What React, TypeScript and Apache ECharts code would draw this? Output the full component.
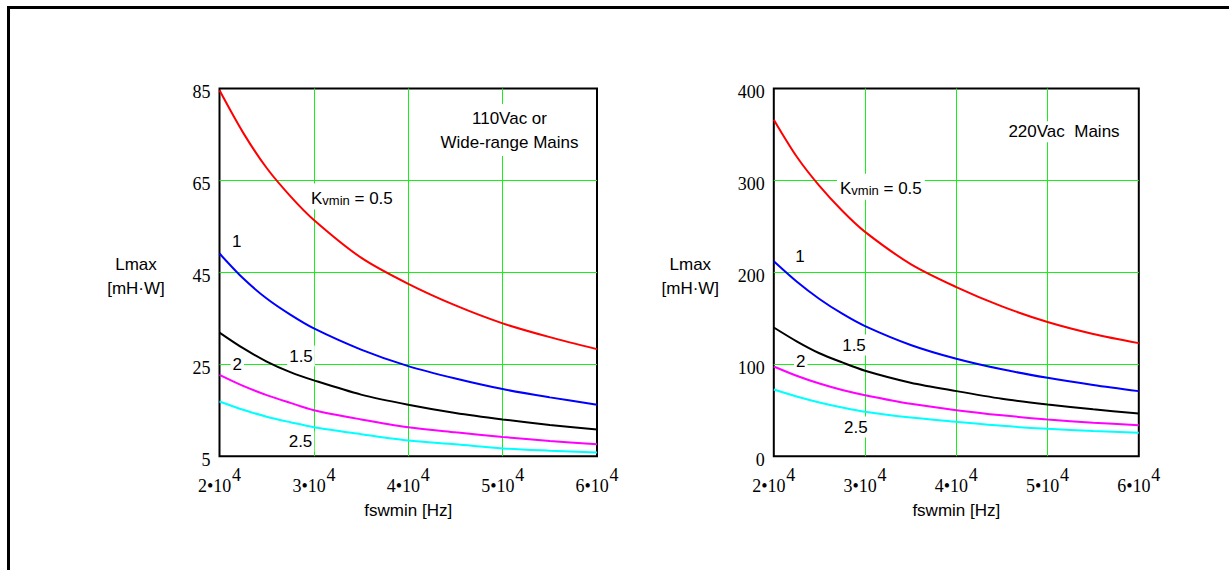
import React, { useEffect, useRef } from "react";
import * as echarts from "echarts";

// ---- data ----
const freqs = [20000, 22500, 25000, 27500, 30000, 35000, 40000, 45000, 50000, 55000, 60000];
const xTicks = [20000, 30000, 40000, 50000, 60000];
const xExponent = "4";
const leftYTicks = [5, 25, 45, 65, 85];
const rightYTicks = [0, 100, 200, 300, 400];
const kvLabels = ["0.5", "1", "1.5", "2", "2.5"];
const curveColors = ["#ff0000", "#0000ff", "#000000", "#ff00ff", "#00ffff"];

// 110Vac or wide-range mains
const left05 = [84.6, 75.4, 67.7, 61.6, 56.4, 48.2, 42.5, 37.8, 33.9, 30.9, 28.3];
const left10 = [49.1, 43.7, 39.3, 35.8, 32.8, 28.2, 24.6, 21.9, 19.6, 17.8, 16.2];
const left15 = [31.9, 28.5, 25.6, 23.3, 21.5, 18.4, 16.2, 14.4, 13.0, 11.8, 10.8];
const left20 = [22.7, 20.3, 18.3, 16.6, 15.0, 13.0, 11.3, 10.2, 9.2, 8.3, 7.6];
const left25 = [16.9, 15.1, 13.6, 12.4, 11.3, 9.8, 8.4, 7.6, 6.7, 6.2, 5.8];

// 220Vac mains
const right05 = [366, 326, 294, 267, 244, 209, 184, 163, 146, 133, 123];
const right10 = [212, 190, 171, 155, 141.5, 121, 106, 94.5, 85.3, 77.5, 70.8];
const right15 = [140, 125, 112, 102, 93, 80, 70.8, 62.5, 56.3, 51, 46.5];
const right20 = [97.6, 87.5, 79, 72, 66.4, 57, 50.1, 44.5, 40, 36.5, 33.8];
const right25 = [72.6, 65, 58.5, 53, 48.3, 42, 37.4, 33, 29.8, 27.5, 25.4];

const xAxisName = "fswmin [Hz]";
const yAxisNameLines = ["Lmax", "[mH·W]"];
const leftTitle = "110Vac or\nWide-range Mains";
const rightTitle = "220Vac  Mains";

const SANS = "Liberation Sans";
const SERIF = "Liberation Serif";
const GRID_GREEN = "#1aee1a";

function makeXAxis(gridIndex: number) {
  return {
    gridIndex,
    type: "value",
    min: xTicks[0],
    max: xTicks[xTicks.length - 1],
    interval: 10000,
    axisLine: { show: false },
    axisTick: { show: false },
    splitLine: {
      show: true,
      showMinLine: false,
      showMaxLine: false,
      lineStyle: { color: GRID_GREEN, width: 1 },
    },
    axisLabel: {
      showMinLabel: true,
      showMaxLabel: true,
      margin: 18,
      fontFamily: SERIF,
      fontSize: 18,
      color: "#000",
      verticalAlign: "top",
      formatter: (v: number) => `{s|${xExponent}}\n{m|${v / 10000}•10}`,
      rich: {
        s: { fontFamily: SERIF, fontSize: 18, color: "#000", lineHeight: 2, width: 43, align: "right" },
        m: { fontFamily: SERIF, fontSize: 18, color: "#000", lineHeight: 20, width: 43, align: "left" },
      },
    },
    name: xAxisName,
    nameLocation: "middle",
    nameGap: 54,
    nameTextStyle: { fontFamily: SANS, fontSize: 17, color: "#000", verticalAlign: "middle" },
  };
}

function makeYAxis(gridIndex: number, min: number, max: number, ticks: number[]) {
  return {
    gridIndex,
    type: "value",
    min,
    max,
    axisLine: { show: false },
    axisTick: { show: false, customValues: ticks },
    splitLine: {
      show: true,
      showMinLine: false,
      showMaxLine: false,
      lineStyle: { color: GRID_GREEN, width: 1 },
    },
    axisLabel: {
      customValues: ticks,
      showMinLabel: true,
      showMaxLabel: true,
      margin: 9,
      fontFamily: SERIF,
      fontSize: 18,
      color: "#000",
      verticalAlign: "top",
      lineHeight: 7,
    },
    name: `{a|${yAxisNameLines[0]}}\n{b|${yAxisNameLines[1]}}`,
    nameLocation: "middle",
    nameRotate: 0,
    nameGap: 83.5,
    nameTextStyle: {
      fontFamily: SANS,
      fontSize: 17,
      color: "#000",
      align: "center",
      verticalAlign: "middle",
      rich: {
        a: { fontFamily: SANS, fontSize: 17, color: "#000", lineHeight: 31.4 },
        b: { fontFamily: SANS, fontSize: 17, color: "#000", lineHeight: 16.6 },
      },
    },
  };
}

function makeSeries(values: number[], idx: number, axis: number) {
  return {
    type: "line",
    name: `Kvmin ${kvLabels[idx]} ${axis}`,
    xAxisIndex: axis,
    yAxisIndex: axis,
    data: freqs.map((f, i) => [f, values[i]]),
    showSymbol: false,
    smooth: 0.3,
    silent: true,
    z: 3,
    lineStyle: { color: curveColors[idx], width: 2 },
  };
}

function plainLabel(text: string, x: number, y: number) {
  return {
    type: "text",
    x,
    y,
    z: 50,
    style: {
      text,
      fontFamily: SANS,
      fontSize: 17,
      fill: "#000",
      align: "center",
      verticalAlign: "middle",
      backgroundColor: "#fff",
      padding: [2, 2],
    },
  };
}

function kvLabel(x: number, y: number) {
  return {
    type: "text",
    x,
    y,
    z: 50,
    style: {
      text: `{k|K}{v|vmin}{e| = ${kvLabels[0]}}`,
      align: "left",
      verticalAlign: "middle",
      backgroundColor: "#fff",
      padding: [3, 3],
      rich: {
        k: { fontFamily: SANS, fontSize: 17, fill: "#000", lineHeight: 20, verticalAlign: "bottom" },
        v: { fontFamily: SANS, fontSize: 13, fill: "#000", lineHeight: 18, verticalAlign: "bottom" },
        e: { fontFamily: SANS, fontSize: 17, fill: "#000", lineHeight: 20, verticalAlign: "bottom" },
      },
    },
  };
}

const leftSets = [left05, left10, left15, left20, left25];
const rightSets = [right05, right10, right15, right20, right25];

const option: any = {
  animation: false,
  backgroundColor: "#fff",
  textStyle: { fontFamily: SANS, fontSize: 17, color: "#000" },
  grid: [
    { left: 219.5, top: 88.5, width: 377.5, height: 367.7, show: true, borderColor: "#000", borderWidth: 2, backgroundColor: "transparent" },
    { left: 773.8, top: 88.5, width: 365, height: 367.7, show: true, borderColor: "#000", borderWidth: 2, backgroundColor: "transparent" },
  ],
  xAxis: [makeXAxis(0), makeXAxis(1)],
  yAxis: [makeYAxis(0, 5, 85, leftYTicks), makeYAxis(1, 0, 400, rightYTicks)],
  series: [
    ...leftSets.map((s, i) => makeSeries(s, i, 0)),
    ...rightSets.map((s, i) => makeSeries(s, i, 1)),
  ],
  graphic: [
    {
      type: "rect",
      z: 100,
      shape: { x: 8.5, y: 7.5, width: 1400, height: 800 },
      style: { fill: "none", stroke: "#000", lineWidth: 3 },
    },
    {
      type: "text",
      x: 509.5,
      y: 130,
      z: 50,
      style: {
        text: leftTitle,
        fontFamily: SANS,
        fontSize: 17,
        lineHeight: 24,
        fill: "#000",
        align: "center",
        verticalAlign: "middle",
        backgroundColor: "#fff",
        padding: [2, 4],
      },
    },
    plainLabel(rightTitle, 1064, 131.7),
    kvLabel(308, 196.5),
    kvLabel(837, 186.7),
    plainLabel(kvLabels[1], 236.7, 241.7),
    plainLabel(kvLabels[2], 301, 356),
    plainLabel(kvLabels[3], 237.3, 364),
    plainLabel(kvLabels[4], 300.5, 441.7),
    plainLabel(kvLabels[1], 800, 256),
    plainLabel(kvLabels[2], 854, 345),
    plainLabel(kvLabels[3], 800.7, 361.7),
    plainLabel(kvLabels[4], 855.8, 427),
  ],
};

export default function App() {
  const ref = useRef<HTMLDivElement>(null);
  useEffect(() => {
    const chart = echarts.init(ref.current!, null, { renderer: "svg" });
    chart.setOption(option);
    return () => chart.dispose();
  }, []);
  return (
    <div
      ref={ref}
      style={{ position: "absolute", left: 0, top: 0, width: 1229, height: 570, background: "#fff" }}
    />
  );
}
